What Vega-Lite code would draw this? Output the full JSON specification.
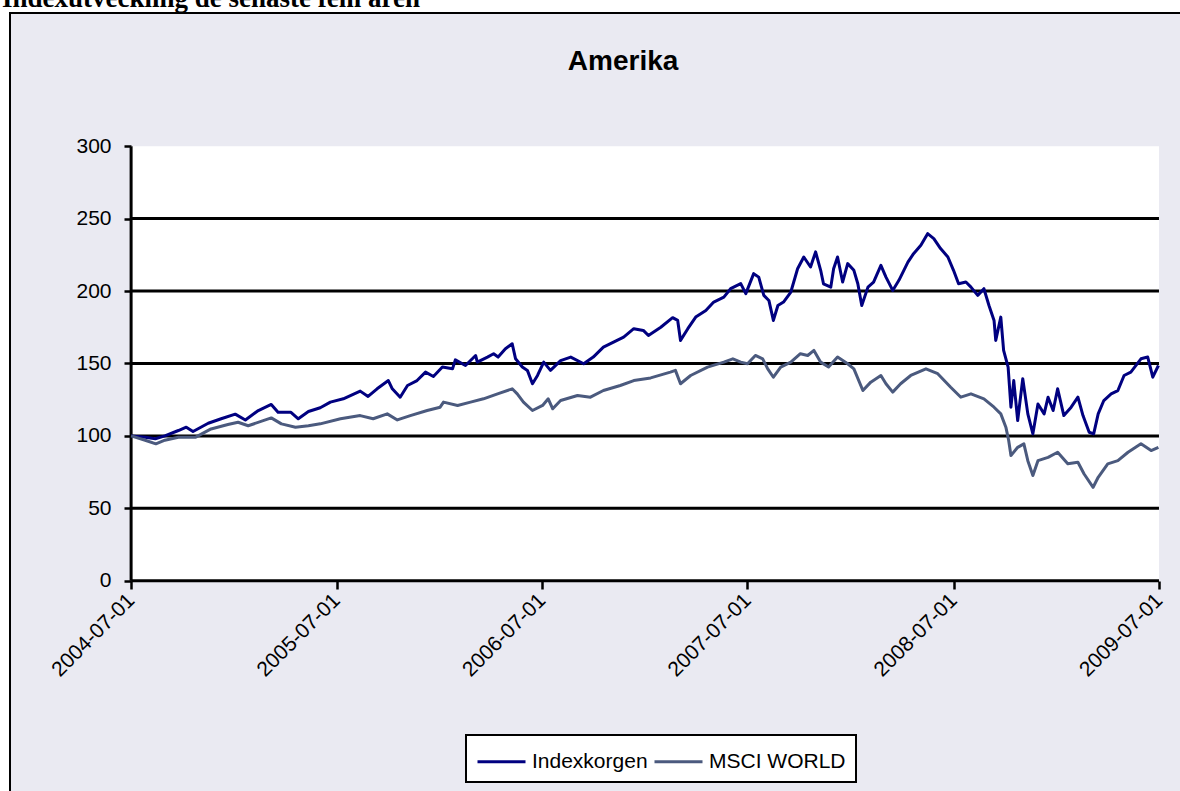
{
  "$schema": "https://vega.github.io/schema/vega-lite/v6.json",
  "width": 1171,
  "height": 779,
  "autosize": {"type": "none"},
  "padding": {"left": 10, "top": 13, "right": 0, "bottom": 0},
  "background": "white",
  "title": {
    "text": "Indexutveckling de senaste fem åren",
    "anchor": "start",
    "frame": "group",
    "font": "Liberation Serif",
    "fontSize": 27,
    "fontWeight": "bold",
    "color": "black",
    "offset": 0,
    "dx": -8
  },
  "config": {
    "view": {"fill": "#EAEAF2", "stroke": "black", "strokeWidth": 2},
    "font": "Liberation Sans",
    "legend": {"strokeWidth": 2},
    "axisX": {
      "title": null,
      "format": "%Y-%m-%d",
      "labelAngle": -45,
      "labelAlign": "right",
      "labelBaseline": "middle",
      "labelFont": "Liberation Sans",
      "labelFontSize": 21,
      "labelColor": "black",
      "labelPadding": 8,
      "labelOverlap": false,
      "labelFlush": false,
      "labelBound": false,
      "offset": -211,
      "domain": false,
      "grid": false,
      "ticks": true,
      "tickColor": "black",
      "tickWidth": 2.5,
      "tickSize": 8
    },
    "axisY": {
      "title": null,
      "labelFont": "Liberation Sans",
      "labelFontSize": 21,
      "labelColor": "black",
      "labelPadding": 13,
      "offset": -121,
      "domain": false,
      "grid": false,
      "tickColor": "black",
      "tickWidth": 2.5,
      "tickSize": 7
    }
  },
  "datasets": {
    "series": [
      {"date": "2004-07-01", "value": 100, "series": "Indexkorgen"},
      {"date": "2004-07-26", "value": 99, "series": "Indexkorgen"},
      {"date": "2004-08-13", "value": 98, "series": "Indexkorgen"},
      {"date": "2004-08-30", "value": 100, "series": "Indexkorgen"},
      {"date": "2004-09-23", "value": 103.7, "series": "Indexkorgen"},
      {"date": "2004-10-07", "value": 106, "series": "Indexkorgen"},
      {"date": "2004-10-19", "value": 103, "series": "Indexkorgen"},
      {"date": "2004-11-15", "value": 108.7, "series": "Indexkorgen"},
      {"date": "2004-12-08", "value": 111.8, "series": "Indexkorgen"},
      {"date": "2005-01-02", "value": 115, "series": "Indexkorgen"},
      {"date": "2005-01-20", "value": 111, "series": "Indexkorgen"},
      {"date": "2005-02-12", "value": 117.5, "series": "Indexkorgen"},
      {"date": "2005-03-07", "value": 121.7, "series": "Indexkorgen"},
      {"date": "2005-03-19", "value": 116.3, "series": "Indexkorgen"},
      {"date": "2005-04-11", "value": 116.3, "series": "Indexkorgen"},
      {"date": "2005-04-24", "value": 111.8, "series": "Indexkorgen"},
      {"date": "2005-05-12", "value": 116.8, "series": "Indexkorgen"},
      {"date": "2005-06-02", "value": 119.4, "series": "Indexkorgen"},
      {"date": "2005-06-20", "value": 123.3, "series": "Indexkorgen"},
      {"date": "2005-07-13", "value": 125.6, "series": "Indexkorgen"},
      {"date": "2005-08-12", "value": 130.9, "series": "Indexkorgen"},
      {"date": "2005-08-26", "value": 127.2, "series": "Indexkorgen"},
      {"date": "2005-09-11", "value": 132.5, "series": "Indexkorgen"},
      {"date": "2005-10-01", "value": 138.2, "series": "Indexkorgen"},
      {"date": "2005-10-08", "value": 132.5, "series": "Indexkorgen"},
      {"date": "2005-10-22", "value": 126.7, "series": "Indexkorgen"},
      {"date": "2005-11-04", "value": 134.8, "series": "Indexkorgen"},
      {"date": "2005-11-21", "value": 138.2, "series": "Indexkorgen"},
      {"date": "2005-12-06", "value": 144, "series": "Indexkorgen"},
      {"date": "2005-12-20", "value": 141, "series": "Indexkorgen"},
      {"date": "2006-01-05", "value": 147.5, "series": "Indexkorgen"},
      {"date": "2006-01-23", "value": 146.3, "series": "Indexkorgen"},
      {"date": "2006-01-28", "value": 152.5, "series": "Indexkorgen"},
      {"date": "2006-02-15", "value": 148.6, "series": "Indexkorgen"},
      {"date": "2006-03-05", "value": 155.5, "series": "Indexkorgen"},
      {"date": "2006-03-08", "value": 150.9, "series": "Indexkorgen"},
      {"date": "2006-03-26", "value": 154.4, "series": "Indexkorgen"},
      {"date": "2006-04-06", "value": 156.7, "series": "Indexkorgen"},
      {"date": "2006-04-14", "value": 154.4, "series": "Indexkorgen"},
      {"date": "2006-04-27", "value": 160.2, "series": "Indexkorgen"},
      {"date": "2006-05-09", "value": 163.6, "series": "Indexkorgen"},
      {"date": "2006-05-15", "value": 153.2, "series": "Indexkorgen"},
      {"date": "2006-05-27", "value": 147.5, "series": "Indexkorgen"},
      {"date": "2006-06-05", "value": 145.2, "series": "Indexkorgen"},
      {"date": "2006-06-14", "value": 136, "series": "Indexkorgen"},
      {"date": "2006-06-23", "value": 141.7, "series": "Indexkorgen"},
      {"date": "2006-07-04", "value": 150.9, "series": "Indexkorgen"},
      {"date": "2006-07-16", "value": 145.2, "series": "Indexkorgen"},
      {"date": "2006-08-03", "value": 152, "series": "Indexkorgen"},
      {"date": "2006-08-21", "value": 154.4, "series": "Indexkorgen"},
      {"date": "2006-09-13", "value": 149.8, "series": "Indexkorgen"},
      {"date": "2006-09-30", "value": 154.4, "series": "Indexkorgen"},
      {"date": "2006-10-18", "value": 161.3, "series": "Indexkorgen"},
      {"date": "2006-11-05", "value": 164.7, "series": "Indexkorgen"},
      {"date": "2006-11-23", "value": 168.2, "series": "Indexkorgen"},
      {"date": "2006-12-11", "value": 174, "series": "Indexkorgen"},
      {"date": "2006-12-28", "value": 172.8, "series": "Indexkorgen"},
      {"date": "2007-01-06", "value": 169.3, "series": "Indexkorgen"},
      {"date": "2007-01-28", "value": 175, "series": "Indexkorgen"},
      {"date": "2007-02-18", "value": 181.6, "series": "Indexkorgen"},
      {"date": "2007-02-27", "value": 179.7, "series": "Indexkorgen"},
      {"date": "2007-03-04", "value": 165.9, "series": "Indexkorgen"},
      {"date": "2007-03-17", "value": 174, "series": "Indexkorgen"},
      {"date": "2007-03-31", "value": 182, "series": "Indexkorgen"},
      {"date": "2007-04-18", "value": 186.6, "series": "Indexkorgen"},
      {"date": "2007-05-02", "value": 192.4, "series": "Indexkorgen"},
      {"date": "2007-05-20", "value": 195.8, "series": "Indexkorgen"},
      {"date": "2007-06-01", "value": 201.6, "series": "Indexkorgen"},
      {"date": "2007-06-19", "value": 205.1, "series": "Indexkorgen"},
      {"date": "2007-06-28", "value": 198.2, "series": "Indexkorgen"},
      {"date": "2007-07-12", "value": 212, "series": "Indexkorgen"},
      {"date": "2007-07-21", "value": 209.6, "series": "Indexkorgen"},
      {"date": "2007-07-30", "value": 197, "series": "Indexkorgen"},
      {"date": "2007-08-08", "value": 193.5, "series": "Indexkorgen"},
      {"date": "2007-08-16", "value": 179.7, "series": "Indexkorgen"},
      {"date": "2007-08-24", "value": 190, "series": "Indexkorgen"},
      {"date": "2007-09-03", "value": 192.4, "series": "Indexkorgen"},
      {"date": "2007-09-16", "value": 199.3, "series": "Indexkorgen"},
      {"date": "2007-09-28", "value": 215.4, "series": "Indexkorgen"},
      {"date": "2007-10-09", "value": 223.5, "series": "Indexkorgen"},
      {"date": "2007-10-21", "value": 216.6, "series": "Indexkorgen"},
      {"date": "2007-10-30", "value": 227, "series": "Indexkorgen"},
      {"date": "2007-11-08", "value": 214.3, "series": "Indexkorgen"},
      {"date": "2007-11-13", "value": 205, "series": "Indexkorgen"},
      {"date": "2007-11-26", "value": 202.7, "series": "Indexkorgen"},
      {"date": "2007-12-01", "value": 215.4, "series": "Indexkorgen"},
      {"date": "2007-12-08", "value": 223.5, "series": "Indexkorgen"},
      {"date": "2007-12-17", "value": 206.2, "series": "Indexkorgen"},
      {"date": "2007-12-26", "value": 218.9, "series": "Indexkorgen"},
      {"date": "2008-01-06", "value": 214.3, "series": "Indexkorgen"},
      {"date": "2008-01-13", "value": 205, "series": "Indexkorgen"},
      {"date": "2008-01-20", "value": 190, "series": "Indexkorgen"},
      {"date": "2008-01-31", "value": 202.7, "series": "Indexkorgen"},
      {"date": "2008-02-10", "value": 206.2, "series": "Indexkorgen"},
      {"date": "2008-02-23", "value": 217.7, "series": "Indexkorgen"},
      {"date": "2008-03-03", "value": 209.6, "series": "Indexkorgen"},
      {"date": "2008-03-15", "value": 200.4, "series": "Indexkorgen"},
      {"date": "2008-03-26", "value": 207.4, "series": "Indexkorgen"},
      {"date": "2008-04-11", "value": 220, "series": "Indexkorgen"},
      {"date": "2008-04-21", "value": 225.8, "series": "Indexkorgen"},
      {"date": "2008-05-04", "value": 231.6, "series": "Indexkorgen"},
      {"date": "2008-05-16", "value": 239.6, "series": "Indexkorgen"},
      {"date": "2008-05-27", "value": 236.2, "series": "Indexkorgen"},
      {"date": "2008-06-08", "value": 229.3, "series": "Indexkorgen"},
      {"date": "2008-06-21", "value": 223.5, "series": "Indexkorgen"},
      {"date": "2008-07-01", "value": 214.3, "series": "Indexkorgen"},
      {"date": "2008-07-10", "value": 205, "series": "Indexkorgen"},
      {"date": "2008-07-23", "value": 206.2, "series": "Indexkorgen"},
      {"date": "2008-08-01", "value": 202.7, "series": "Indexkorgen"},
      {"date": "2008-08-13", "value": 197, "series": "Indexkorgen"},
      {"date": "2008-08-24", "value": 201.6, "series": "Indexkorgen"},
      {"date": "2008-09-02", "value": 190, "series": "Indexkorgen"},
      {"date": "2008-09-11", "value": 179.7, "series": "Indexkorgen"},
      {"date": "2008-09-14", "value": 165.9, "series": "Indexkorgen"},
      {"date": "2008-09-23", "value": 182, "series": "Indexkorgen"},
      {"date": "2008-09-28", "value": 159, "series": "Indexkorgen"},
      {"date": "2008-10-06", "value": 147.5, "series": "Indexkorgen"},
      {"date": "2008-10-11", "value": 119.8, "series": "Indexkorgen"},
      {"date": "2008-10-16", "value": 138.2, "series": "Indexkorgen"},
      {"date": "2008-10-23", "value": 110.6, "series": "Indexkorgen"},
      {"date": "2008-11-01", "value": 139.4, "series": "Indexkorgen"},
      {"date": "2008-11-10", "value": 115.2, "series": "Indexkorgen"},
      {"date": "2008-11-19", "value": 101.4, "series": "Indexkorgen"},
      {"date": "2008-11-28", "value": 122, "series": "Indexkorgen"},
      {"date": "2008-12-09", "value": 115.2, "series": "Indexkorgen"},
      {"date": "2008-12-16", "value": 126.7, "series": "Indexkorgen"},
      {"date": "2008-12-25", "value": 117.5, "series": "Indexkorgen"},
      {"date": "2009-01-02", "value": 132.5, "series": "Indexkorgen"},
      {"date": "2009-01-13", "value": 114, "series": "Indexkorgen"},
      {"date": "2009-01-26", "value": 119.8, "series": "Indexkorgen"},
      {"date": "2009-02-07", "value": 126.7, "series": "Indexkorgen"},
      {"date": "2009-02-16", "value": 114, "series": "Indexkorgen"},
      {"date": "2009-02-27", "value": 102.5, "series": "Indexkorgen"},
      {"date": "2009-03-07", "value": 101.4, "series": "Indexkorgen"},
      {"date": "2009-03-15", "value": 115.2, "series": "Indexkorgen"},
      {"date": "2009-03-25", "value": 124.4, "series": "Indexkorgen"},
      {"date": "2009-04-07", "value": 129, "series": "Indexkorgen"},
      {"date": "2009-04-19", "value": 131.3, "series": "Indexkorgen"},
      {"date": "2009-04-30", "value": 141.7, "series": "Indexkorgen"},
      {"date": "2009-05-12", "value": 144, "series": "Indexkorgen"},
      {"date": "2009-05-30", "value": 153.2, "series": "Indexkorgen"},
      {"date": "2009-06-11", "value": 154.4, "series": "Indexkorgen"},
      {"date": "2009-06-17", "value": 145.2, "series": "Indexkorgen"},
      {"date": "2009-06-20", "value": 140.5, "series": "Indexkorgen"},
      {"date": "2009-06-30", "value": 148.6, "series": "Indexkorgen"},
      {"date": "2004-07-01", "value": 100, "series": "MSCI WORLD"},
      {"date": "2004-07-26", "value": 97, "series": "MSCI WORLD"},
      {"date": "2004-08-14", "value": 94.5, "series": "MSCI WORLD"},
      {"date": "2004-08-30", "value": 97, "series": "MSCI WORLD"},
      {"date": "2004-09-23", "value": 99, "series": "MSCI WORLD"},
      {"date": "2004-10-23", "value": 99, "series": "MSCI WORLD"},
      {"date": "2004-11-20", "value": 104.8, "series": "MSCI WORLD"},
      {"date": "2004-12-20", "value": 107.8, "series": "MSCI WORLD"},
      {"date": "2005-01-07", "value": 109.4, "series": "MSCI WORLD"},
      {"date": "2005-01-25", "value": 107, "series": "MSCI WORLD"},
      {"date": "2005-03-07", "value": 112.4, "series": "MSCI WORLD"},
      {"date": "2005-03-25", "value": 108.3, "series": "MSCI WORLD"},
      {"date": "2005-04-19", "value": 106, "series": "MSCI WORLD"},
      {"date": "2005-05-12", "value": 107, "series": "MSCI WORLD"},
      {"date": "2005-06-02", "value": 108.3, "series": "MSCI WORLD"},
      {"date": "2005-07-08", "value": 111.8, "series": "MSCI WORLD"},
      {"date": "2005-08-12", "value": 114, "series": "MSCI WORLD"},
      {"date": "2005-09-04", "value": 111.8, "series": "MSCI WORLD"},
      {"date": "2005-09-29", "value": 115.2, "series": "MSCI WORLD"},
      {"date": "2005-10-17", "value": 111, "series": "MSCI WORLD"},
      {"date": "2005-11-09", "value": 114, "series": "MSCI WORLD"},
      {"date": "2005-12-09", "value": 117.5, "series": "MSCI WORLD"},
      {"date": "2006-01-01", "value": 119.8, "series": "MSCI WORLD"},
      {"date": "2006-01-07", "value": 123.3, "series": "MSCI WORLD"},
      {"date": "2006-02-01", "value": 121, "series": "MSCI WORLD"},
      {"date": "2006-02-24", "value": 123.3, "series": "MSCI WORLD"},
      {"date": "2006-03-19", "value": 125.6, "series": "MSCI WORLD"},
      {"date": "2006-04-13", "value": 129, "series": "MSCI WORLD"},
      {"date": "2006-05-09", "value": 132.5, "series": "MSCI WORLD"},
      {"date": "2006-05-18", "value": 129, "series": "MSCI WORLD"},
      {"date": "2006-05-29", "value": 123.3, "series": "MSCI WORLD"},
      {"date": "2006-06-14", "value": 117.5, "series": "MSCI WORLD"},
      {"date": "2006-07-02", "value": 121, "series": "MSCI WORLD"},
      {"date": "2006-07-12", "value": 125.6, "series": "MSCI WORLD"},
      {"date": "2006-07-20", "value": 118.7, "series": "MSCI WORLD"},
      {"date": "2006-08-03", "value": 124.4, "series": "MSCI WORLD"},
      {"date": "2006-09-02", "value": 127.9, "series": "MSCI WORLD"},
      {"date": "2006-09-25", "value": 126.7, "series": "MSCI WORLD"},
      {"date": "2006-10-18", "value": 131.3, "series": "MSCI WORLD"},
      {"date": "2006-11-17", "value": 134.8, "series": "MSCI WORLD"},
      {"date": "2006-12-11", "value": 138.2, "series": "MSCI WORLD"},
      {"date": "2007-01-10", "value": 140, "series": "MSCI WORLD"},
      {"date": "2007-02-14", "value": 144, "series": "MSCI WORLD"},
      {"date": "2007-02-23", "value": 145.2, "series": "MSCI WORLD"},
      {"date": "2007-03-04", "value": 136, "series": "MSCI WORLD"},
      {"date": "2007-03-22", "value": 141.7, "series": "MSCI WORLD"},
      {"date": "2007-04-21", "value": 147.5, "series": "MSCI WORLD"},
      {"date": "2007-05-20", "value": 150.9, "series": "MSCI WORLD"},
      {"date": "2007-06-05", "value": 153.2, "series": "MSCI WORLD"},
      {"date": "2007-06-19", "value": 150.9, "series": "MSCI WORLD"},
      {"date": "2007-07-01", "value": 149.8, "series": "MSCI WORLD"},
      {"date": "2007-07-15", "value": 155.5, "series": "MSCI WORLD"},
      {"date": "2007-07-28", "value": 153.2, "series": "MSCI WORLD"},
      {"date": "2007-08-06", "value": 146.3, "series": "MSCI WORLD"},
      {"date": "2007-08-16", "value": 140.5, "series": "MSCI WORLD"},
      {"date": "2007-08-29", "value": 147.5, "series": "MSCI WORLD"},
      {"date": "2007-09-16", "value": 150.9, "series": "MSCI WORLD"},
      {"date": "2007-10-03", "value": 156.7, "series": "MSCI WORLD"},
      {"date": "2007-10-16", "value": 155.5, "series": "MSCI WORLD"},
      {"date": "2007-10-27", "value": 159, "series": "MSCI WORLD"},
      {"date": "2007-11-08", "value": 150.9, "series": "MSCI WORLD"},
      {"date": "2007-11-22", "value": 147.5, "series": "MSCI WORLD"},
      {"date": "2007-12-08", "value": 154.4, "series": "MSCI WORLD"},
      {"date": "2007-12-26", "value": 149.8, "series": "MSCI WORLD"},
      {"date": "2008-01-06", "value": 146.3, "series": "MSCI WORLD"},
      {"date": "2008-01-22", "value": 131.3, "series": "MSCI WORLD"},
      {"date": "2008-02-05", "value": 137.1, "series": "MSCI WORLD"},
      {"date": "2008-02-23", "value": 141.7, "series": "MSCI WORLD"},
      {"date": "2008-03-03", "value": 136, "series": "MSCI WORLD"},
      {"date": "2008-03-15", "value": 130.2, "series": "MSCI WORLD"},
      {"date": "2008-03-29", "value": 136, "series": "MSCI WORLD"},
      {"date": "2008-04-16", "value": 141.7, "series": "MSCI WORLD"},
      {"date": "2008-05-13", "value": 146.3, "series": "MSCI WORLD"},
      {"date": "2008-06-03", "value": 142.9, "series": "MSCI WORLD"},
      {"date": "2008-06-26", "value": 133.6, "series": "MSCI WORLD"},
      {"date": "2008-07-14", "value": 126.7, "series": "MSCI WORLD"},
      {"date": "2008-08-01", "value": 129, "series": "MSCI WORLD"},
      {"date": "2008-08-24", "value": 125.6, "series": "MSCI WORLD"},
      {"date": "2008-09-11", "value": 119.8, "series": "MSCI WORLD"},
      {"date": "2008-09-23", "value": 115.2, "series": "MSCI WORLD"},
      {"date": "2008-10-02", "value": 106, "series": "MSCI WORLD"},
      {"date": "2008-10-07", "value": 96.8, "series": "MSCI WORLD"},
      {"date": "2008-10-11", "value": 86.4, "series": "MSCI WORLD"},
      {"date": "2008-10-23", "value": 92.1, "series": "MSCI WORLD"},
      {"date": "2008-11-03", "value": 94.5, "series": "MSCI WORLD"},
      {"date": "2008-11-10", "value": 82.9, "series": "MSCI WORLD"},
      {"date": "2008-11-19", "value": 72.6, "series": "MSCI WORLD"},
      {"date": "2008-11-28", "value": 82.9, "series": "MSCI WORLD"},
      {"date": "2008-12-16", "value": 85.2, "series": "MSCI WORLD"},
      {"date": "2009-01-02", "value": 88.7, "series": "MSCI WORLD"},
      {"date": "2009-01-20", "value": 80.7, "series": "MSCI WORLD"},
      {"date": "2009-02-07", "value": 81.8, "series": "MSCI WORLD"},
      {"date": "2009-02-18", "value": 73.7, "series": "MSCI WORLD"},
      {"date": "2009-03-06", "value": 64.5, "series": "MSCI WORLD"},
      {"date": "2009-03-15", "value": 71.4, "series": "MSCI WORLD"},
      {"date": "2009-04-01", "value": 80.7, "series": "MSCI WORLD"},
      {"date": "2009-04-19", "value": 82.9, "series": "MSCI WORLD"},
      {"date": "2009-05-07", "value": 88.7, "series": "MSCI WORLD"},
      {"date": "2009-05-30", "value": 94.5, "series": "MSCI WORLD"},
      {"date": "2009-06-17", "value": 89.9, "series": "MSCI WORLD"},
      {"date": "2009-06-30", "value": 92.1, "series": "MSCI WORLD"}
    ],
    "gridlines": [
      {"value": 50}, {"value": 100}, {"value": 150}, {"value": 200}, {"value": 250}
    ]
  },
  "layer": [
    {
      "data": {"values": [{}]},
      "mark": {"type": "rect", "fill": "white"},
      "encoding": {
        "x": {"datum": {"year": 2004, "month": 7, "date": 1, "utc": true}, "type": "temporal", "scale": {"type": "utc", "domain": [1070051904000, 1249786368000], "nice": false}},
        "x2": {"datum": {"year": 2009, "month": 7, "date": 1, "utc": true}},
        "y": {"datum": 0, "type": "quantitative", "scale": {"domain": [-145.853, 391.935], "nice": false, "zero": false}},
        "y2": {"datum": 300}
      }
    },
    {
      "data": {"name": "gridlines"},
      "mark": {"type": "rule", "color": "black", "strokeWidth": 3},
      "encoding": {
        "x": {"datum": {"year": 2004, "month": 7, "date": 1, "utc": true}, "type": "temporal", "scale": {"type": "utc", "domain": [1070051904000, 1249786368000], "nice": false}},
        "x2": {"datum": {"year": 2009, "month": 7, "date": 1, "utc": true}},
        "y": {"field": "value", "type": "quantitative", "scale": {"domain": [-145.853, 391.935], "nice": false, "zero": false}}
      }
    },
    {
      "data": {"values": [{}]},
      "mark": {"type": "rule", "color": "black", "strokeWidth": 3},
      "encoding": {
        "x": {"datum": {"year": 2004, "month": 7, "date": 1, "utc": true}, "type": "temporal", "scale": {"type": "utc", "domain": [1070051904000, 1249786368000], "nice": false}},
        "x2": {"datum": {"year": 2009, "month": 7, "date": 1, "utc": true}},
        "y": {"datum": 0, "type": "quantitative", "scale": {"domain": [-145.853, 391.935], "nice": false, "zero": false}}
      }
    },
    {
      "data": {"values": [{}]},
      "mark": {"type": "rule", "color": "black", "strokeWidth": 3},
      "encoding": {
        "x": {"datum": {"year": 2004, "month": 7, "date": 1, "utc": true}, "type": "temporal", "scale": {"type": "utc", "domain": [1070051904000, 1249786368000], "nice": false}},
        "y": {"datum": 0, "type": "quantitative", "scale": {"domain": [-145.853, 391.935], "nice": false, "zero": false}},
        "y2": {"datum": 300}
      }
    },
    {
      "data": {"name": "series"},
      "mark": {"type": "line", "strokeWidth": 3, "strokeJoin": "round"},
      "encoding": {
        "x": {
          "field": "date",
          "type": "temporal",
          "scale": {"type": "utc", "domain": [1070051904000, 1249786368000], "nice": false},
          "axis": {
            "title": null,
            "values": [
              {"year": 2004, "month": 7, "date": 1, "utc": true},
              {"year": 2005, "month": 7, "date": 1, "utc": true},
              {"year": 2006, "month": 7, "date": 1, "utc": true},
              {"year": 2007, "month": 7, "date": 1, "utc": true},
              {"year": 2008, "month": 7, "date": 1, "utc": true},
              {"year": 2009, "month": 7, "date": 1, "utc": true}
            ],
            "format": "%Y-%m-%d"
          }
        },
        "y": {
          "field": "value",
          "type": "quantitative",
          "scale": {"domain": [-145.853, 391.935], "nice": false, "zero": false},
          "axis": {
            "title": null,
            "values": [0, 50, 100, 150, 200, 250, 300]
          }
        },
        "color": {
          "field": "series",
          "type": "nominal",
          "scale": {"domain": ["Indexkorgen", "MSCI WORLD"], "range": ["#000080", "#4B5A7E"]},
          "legend": {
            "orient": "none",
            "legendX": 456,
            "legendY": 722,
            "direction": "horizontal",
            "title": null,
            "symbolType": "M-1,0H2.2",
            "symbolStrokeWidth": 3,
            "symbolSize": 900,
            "labelFont": "Liberation Sans",
            "labelFontSize": 21,
            "labelColor": "black",
            "labelOffset": 23,
            "strokeColor": "black",
            "fillColor": "white",
            "padding": 10,
            "columnPadding": 0
          }
        }
      }
    },
    {
      "data": {"values": [{"label": "Amerika"}]},
      "mark": {"type": "text", "font": "Liberation Sans", "fontSize": 28, "fontWeight": "bold", "color": "black", "align": "center", "baseline": "alphabetic"},
      "encoding": {
        "x": {"datum": {"year": 2006, "month": 11, "date": 22, "utc": true}, "type": "temporal", "scale": {"type": "utc", "domain": [1070051904000, 1249786368000], "nice": false}},
        "y": {"datum": 352.5, "type": "quantitative", "scale": {"domain": [-145.853, 391.935], "nice": false, "zero": false}},
        "text": {"field": "label"}
      }
    }
  ]
}
